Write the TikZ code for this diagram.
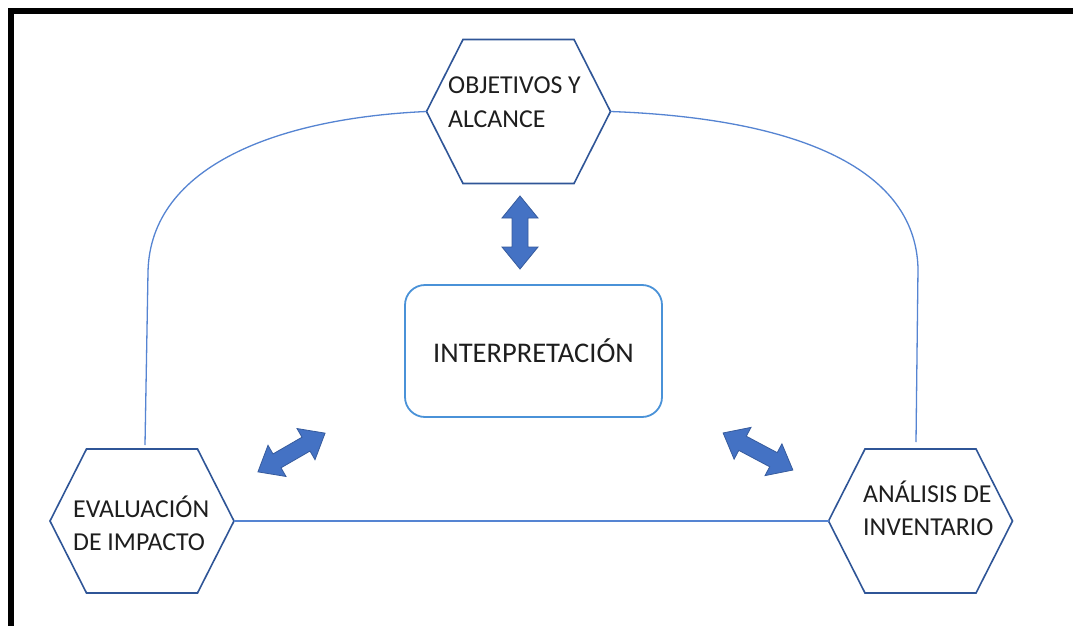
\documentclass[tikz,border=0pt]{standalone}
\usepackage{fontspec}
\setmainfont{Carlito}
\definecolor{hexblue}{HTML}{2F5597}
\definecolor{linkblue}{HTML}{5584D2}
\definecolor{arrblue}{HTML}{4472C4}
\definecolor{rectblue}{HTML}{4A92D8}
\definecolor{txtgray}{HTML}{1E1E1E}
\begin{document}
\begin{tikzpicture}[x=1pt,y=-1pt,
  hexline/.style={draw=hexblue, line width=1.6pt, line join=miter},
  link/.style={draw=linkblue, line width=1.3pt},
  label/.style={font=\fontsize{25.8}{33}\selectfont, text=txtgray, align=left, inner sep=0pt, anchor=base west},
  hexa/.pic={
    \draw[hexline] (-92,0) -- (-55.5,-72) -- (55.5,-72) -- (92,0) -- (55.5,72) -- (-55.5,72) -- cycle;
    \coordinate (-w) at (-92,0);
    \coordinate (-e) at (92,0);
    \coordinate (-n) at (0,-72);
  },
  dblarr/.pic={
    \filldraw[fill=arrblue, draw=arrblue!80!black, line width=0.8pt]
      ({-#1/2},0) -- ({-#1/2+22},-18) -- ({-#1/2+22},-8) -- ({#1/2-22},-8)
      -- ({#1/2-22},-18) -- ({#1/2},0) -- ({#1/2-22},18) -- ({#1/2-22},8)
      -- ({-#1/2+22},8) -- ({-#1/2+22},18) -- cycle;
  }
]
% canvas and frame
\useasboundingbox (0,0) rectangle (1073,626);
\fill[white] (0,0) rectangle (1073,626);
\draw[black, line width=6pt, line join=miter] (11,626) -- (11,11) -- (1073,11);

% the three hexagonal stages
\pic (obj) at (518.5,111.5) {hexa};
\pic (eva) at (142,521) {hexa};
\pic (ana) at (920.5,521) {hexa};

% central box
\node[draw=rectblue, line width=1.8pt, rounded corners=20pt, minimum width=257pt,
      minimum height=132pt, font=\fontsize{28.5}{34}\selectfont, text=txtgray] (interp)
      at (533.5,351) {INTERPRETACIÓN};

% cycle connectors
\coordinate (evaend) at (145,445);
\coordinate (anaend) at (916,442);
\draw[link] (obj-w) .. controls (280,118) and (150,165) .. (148,272) -- (evaend);
\draw[link] (obj-e) .. controls (790,118) and (915,165) .. (918,268) -- (anaend);
\draw[link] (eva-e) -- (ana-w);

% double arrows towards the interpretation box
\pic[rotate=90] at (520,232.5) {dblarr=73};
\pic[rotate=30] at (291.5,452.5) {dblarr=77.5};
\pic[rotate=-28] at (758,451.5) {dblarr=79};

% stage labels (anchored at the baseline of the last line)
\node[label, font=\fontsize{25.8}{34}\selectfont] (objtxt) at (448,127) {OBJETIVOS Y\\ALCANCE};
\node[label] (evatxt) at (73,550) {EVALUACIÓN\\DE IMPACTO};
\node[label] (anatxt) at (863,535) {ANÁLISIS DE\\INVENTARIO};
\end{tikzpicture}
\end{document}
